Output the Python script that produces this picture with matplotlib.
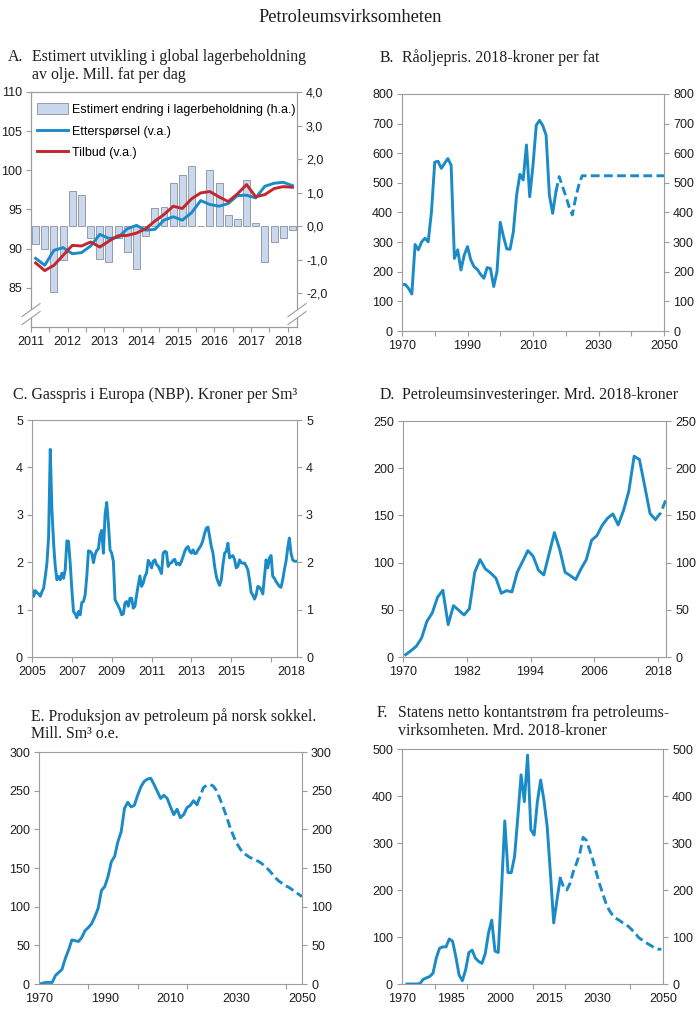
import numpy as np
import matplotlib.pyplot as plt
from matplotlib.patches import Patch, Polygon
from matplotlib.lines import Line2D
from matplotlib.ticker import FixedLocator

W, H = 700, 1021

BLUE = '#1b8bc8'
RED = '#c2272d'
BARC = '#c9d7ef'
SPINE = '#9c9c9c'
TXT = '#1e1e1e'

plt.rcParams['font.family'] = ['Liberation Sans', 'DejaVu Sans']

# ---------------- A: global lagerbeholdning (kvartal 2011K1-2018K1)
a_quarters = np.arange(29)
a_stock = [-0.54, -0.67, -1.97, -0.99, 1.06, 0.94, -0.34, -0.98, -1.05, -0.34,
           -0.76, -1.27, -0.29, 0.54, 0.57, 1.30, 1.53, 1.79, 0.0, 1.67,
           1.28, 0.34, 0.21, 1.39, 0.11, -1.06, -0.46, -0.34, -0.11]
a_demand = [88.77, 87.88, 89.79, 90.13, 89.36, 89.49, 90.34, 91.82, 91.31, 91.44,
            92.54, 92.97, 92.37, 92.46, 93.64, 94.07, 93.64, 94.58, 96.14, 95.64,
            95.42, 95.76, 96.78, 96.82, 96.48, 97.97, 98.35, 98.47, 98.05]
a_supply = [88.18, 87.20, 87.88, 89.15, 90.42, 90.34, 90.85, 90.21, 90.97, 91.65,
            91.69, 91.99, 92.54, 93.52, 94.36, 95.42, 95.13, 96.36, 97.12, 97.29,
            96.61, 96.02, 96.99, 98.18, 96.61, 96.91, 97.67, 97.92, 97.84]

# ---------------- B: raoljepris
b_years = np.arange(1970, 2018)
b_price = [157, 157, 144, 125, 292, 274, 301, 313, 301, 403,
           570, 573, 549, 566, 582, 560, 245, 274, 206, 256,
           285, 240, 217, 208, 191, 178, 214, 211, 150, 200,
           367, 318, 277, 276, 335, 459, 529, 510, 628, 453,
           560, 695, 711, 693, 661, 459, 397, 470]
b_proj_years = [2017, 2018, 2019, 2020, 2021, 2022, 2023, 2024, 2025, 2050]
b_proj = [470, 521, 488, 456, 420, 392, 448, 493, 524, 524]

# ---------------- C: gasspris NBP, maanedlig fra jan 2005
c_gas = [1.42, 1.28, 1.40, 1.36, 1.33, 1.28, 1.38, 1.45, 1.70, 1.98,
         2.54, 4.38, 3.10, 2.40, 1.91, 1.63, 1.70, 1.63, 1.77, 1.66,
         1.84, 2.45, 2.44, 1.98, 1.42, 0.96, 0.91, 0.83, 0.96, 0.89,
         1.15, 1.17, 1.31, 1.70, 2.24, 2.23, 2.19, 1.99, 2.16, 2.25,
         2.28, 2.58, 2.67, 2.19, 3.00, 3.26, 2.82, 2.26, 2.19, 2.02,
         1.21, 1.14, 1.07, 1.00, 0.89, 0.91, 1.14, 1.17, 1.07, 1.24,
         1.24, 1.03, 1.07, 1.31, 1.52, 1.71, 1.49, 1.56, 1.70, 1.77,
         2.04, 1.98, 1.88, 2.02, 2.05, 1.95, 1.92, 1.84, 1.76, 2.19,
         2.23, 2.21, 1.91, 1.98, 1.99, 2.04, 2.06, 1.95, 1.98, 1.94,
         2.02, 2.12, 2.23, 2.30, 2.33, 2.23, 2.19, 2.26, 2.18, 2.19,
         2.26, 2.31, 2.37, 2.47, 2.61, 2.72, 2.74, 2.54, 2.33, 2.19,
         1.91, 1.70, 1.59, 1.51, 1.63, 1.95, 2.19, 2.23, 2.40, 2.09,
         2.12, 2.14, 2.06, 1.88, 1.91, 2.05, 1.99, 1.98, 1.98, 1.92,
         1.84, 1.63, 1.36, 1.31, 1.22, 1.31, 1.49, 1.47, 1.42, 1.33,
         1.70, 2.05, 1.88, 2.09, 2.14, 1.70, 1.66, 1.59, 1.54, 1.49,
         1.47, 1.63, 1.84, 2.02, 2.30, 2.51, 2.19, 2.05, 2.02, 2.02]
c_time = 2005 + np.arange(len(c_gas)) / 12

# ---------------- D: petroleumsinvesteringer 1970-2019
d_years = np.arange(1970, 2020)
d_inv = [2.5, 6.7, 11.3, 20.1, 37.8, 46.6, 63.3, 70.7, 34.3, 54.4,
         49.5, 44.5, 51.2, 89.8, 103.2, 93.3, 89.0, 83.4, 67.5, 70.3,
         68.9, 89.8, 101.1, 112.7, 106.7, 91.9, 86.9, 109.5, 131.8, 113.8,
         89.8, 86.2, 82.0, 93.3, 103.2, 123.7, 128.6, 139.6, 147.0, 151.6,
         139.9, 155.1, 175.6, 212.7, 209.2, 180.9, 151.9, 145.6, 152.7, 166.8]
d_last_actual = 2017

# ---------------- E: produksjon
e_years = np.arange(1970, 2019)
e_prod = [0, 0.9, 2, 2, 2, 11, 15, 19, 33, 44,
          57, 56, 55, 60, 69, 73, 78, 87, 98, 121,
          126, 139, 158, 165, 184, 197, 227, 235, 229, 231,
          244, 255, 262, 265, 266, 258, 249, 240, 244, 240,
          229, 219, 226, 215, 219, 228, 231, 237, 232]
e_proj_years = np.arange(2018, 2051)
e_proj = [232, 242, 254, 257, 258, 256, 250, 240, 229, 217,
          204, 193, 183, 176, 170, 167, 164, 162, 160, 158,
          155, 151, 147, 142, 137, 133, 130, 127, 125, 122,
          119, 116, 113]

# ---------------- F: statens netto kontantstrom
f_years = np.arange(1971, 2019)
f_cash = [0, 0, 0, 0, 1, 10, 13, 16, 23, 55,
          76, 79, 79, 96, 91, 58, 19, 7, 30, 67,
          72, 55, 48, 44, 64, 108, 136, 70, 67, 200,
          347, 237, 237, 271, 355, 445, 388, 487, 328, 317,
          388, 434, 391, 335, 235, 130, 179, 225]
f_proj_years = np.arange(2018, 2050)
f_proj = [225, 207, 200, 214, 239, 257, 278, 312, 306, 285,
          264, 239, 214, 193, 172, 157, 147, 140, 136, 131,
          127, 122, 115, 108, 99, 94, 89, 85, 81, 76,
          74, 74]

DASH = (0, (3.0, 1.5))
LW = 2.1
TICKFS = 9

fig = plt.figure(figsize=(W / 100, H / 100), dpi=100)


def box(l, t, r, b):
    return [l / W, 1 - b / H, (r - l) / W, (b - t) / H]


def style(ax, right=True):
    for s in ax.spines.values():
        s.set_color(SPINE)
        s.set_linewidth(0.8)
    ax.tick_params(which='both', colors=SPINE, labelcolor=TXT, labelsize=TICKFS,
                   length=3.5, width=0.8, direction='out', pad=3)
    if right:
        ax.tick_params(axis='y', right=True, labelright=True)


def title(x_lab, x_txt, y, lab, lines):
    kw = dict(family=['Liberation Serif', 'DejaVu Serif'], fontsize=11.4,
              color=TXT, va='center')
    if lab:
        fig.text(x_lab / W, 1 - y / H, lab, **kw)
    for i, line in enumerate(lines):
        fig.text(x_txt / W, 1 - (y + i * 18) / H, line, **kw)


fig.text(0.5, 1 - 18 / H, 'Petroleumsvirksomheten',
         family=['Liberation Serif', 'DejaVu Serif'], fontsize=13.2,
         color=TXT, ha='center', va='center')

# ---------------- A
axA = fig.add_axes(box(31, 92, 297, 327))
axA2 = axA.twinx()
axA.set_zorder(axA2.get_zorder() + 1)
axA.patch.set_visible(False)
xq = 2011 + (a_quarters + 0.5) / 4
axA2.bar(xq, a_stock, width=0.19, color=BARC, edgecolor='#8a8f98', linewidth=0.6)
axA.plot(xq, a_demand, color=BLUE, lw=LW)
axA.plot(xq, a_supply, color=RED, lw=LW)
axA.set_xlim(2011, 2018.25)
axA.set_ylim(80, 110)
axA2.set_ylim(-3, 4)
axA.set_yticks([85, 90, 95, 100, 105, 110])
axA2.set_yticks([-2, -1, 0, 1, 2, 3, 4])
axA2.set_yticklabels([f'{v:.1f}'.replace('.', ',') for v in [-2, -1, 0, 1, 2, 3, 4]])
axA.set_xticks(range(2011, 2019))
axA.xaxis.set_minor_locator(FixedLocator(np.arange(2011.5, 2018, 1.0)))
style(axA, right=False)
style(axA2, right=False)
axA2.tick_params(axis='x', which='both', bottom=False, labelbottom=False)
handles = [Patch(facecolor=BARC, edgecolor='#8a8f98', linewidth=0.6),
           Line2D([], [], color=BLUE, lw=LW),
           Line2D([], [], color=RED, lw=LW)]
axA.legend(handles, ['Estimert endring i lagerbeholdning (h.a.)',
                     'Etterspørsel (v.a.)', 'Tilbud (v.a.)'],
           loc='upper left', bbox_to_anchor=(0.022, 0.952), frameon=False,
           fontsize=9, handlelength=2.5, handleheight=0.95, handletextpad=0.3,
           labelspacing=0.72, borderpad=0, borderaxespad=0)

# break marks on both y axes
for xs in (31, 297):
    gap = Polygon([((xs - 4) / W, 1 - 313.0 / H), ((xs + 4) / W, 1 - 307.2 / H),
                   ((xs + 4) / W, 1 - 315.2 / H), ((xs - 4) / W, 1 - 321.0 / H)],
                  closed=True, facecolor='white', edgecolor='none',
                  transform=fig.transFigure, zorder=5)
    fig.add_artist(gap)
    for dy in (0, 8):
        fig.add_artist(Line2D([(xs - 9) / W, (xs + 9) / W],
                              [1 - (316.6 + dy) / H, 1 - (303.6 + dy) / H],
                              color=SPINE, lw=0.8, transform=fig.transFigure,
                              zorder=6))

title(8, 32, 57, 'A.', ['Estimert utvikling i global lagerbeholdning',
                        'av olje. Mill. fat per dag'])

# ---------------- B
axB = fig.add_axes(box(402, 94, 664, 331))
axB.plot(b_years, b_price, color=BLUE, lw=LW)
axB.plot(b_proj_years, b_proj, color=BLUE, lw=LW, linestyle=DASH)
axB.set_xlim(1970, 2050)
axB.set_ylim(0, 800)
axB.set_yticks(range(0, 801, 100))
axB.set_xticks(range(1970, 2051, 20))
axB.xaxis.set_minor_locator(FixedLocator(range(1980, 2050, 20)))
style(axB)
title(380, 402, 58, 'B.', ['Råoljepris. 2018-kroner per fat'])

# ---------------- C
axC = fig.add_axes(box(32, 420, 297, 657))
axC.plot(c_time, c_gas, color=BLUE, lw=LW)
axC.set_xlim(2005, 2018.3)
axC.set_ylim(0, 5)
axC.set_yticks(range(0, 6))
axC.set_xticks([2005, 2007, 2009, 2011, 2013, 2015, 2018])
axC.xaxis.set_minor_locator(FixedLocator([2017]))
style(axC)
axC.xaxis.get_major_ticks()[-1].tick1line.set_visible(False)
title(13, 13, 395, None, ['C. Gasspris i Europa (NBP). Kroner per Sm³'])

# ---------------- D
axD = fig.add_axes(box(403, 421, 666, 657))
dx = d_years + 0.5
n_act = int(d_last_actual - d_years[0]) + 1
axD.plot(dx[:n_act], d_inv[:n_act], color=BLUE, lw=LW)
axD.plot(dx[n_act - 1:], d_inv[n_act - 1:], color=BLUE, lw=LW, linestyle=DASH)
axD.set_xlim(1970, 2019.5)
axD.set_ylim(0, 250)
axD.set_yticks(range(0, 251, 50))
axD.set_xticks(range(1970, 2019, 12))
style(axD)
title(380, 402, 395, 'D.', ['Petroleumsinvesteringer. Mrd. 2018-kroner'])

# ---------------- E
axE = fig.add_axes(box(39, 752, 302, 984))
axE.plot(e_years, e_prod, color=BLUE, lw=LW)
axE.plot(e_proj_years, e_proj, color=BLUE, lw=LW, linestyle=DASH)
axE.set_xlim(1970, 2050)
axE.set_ylim(0, 300)
axE.set_yticks(range(0, 301, 50))
axE.set_xticks(range(1970, 2051, 20))
axE.xaxis.set_minor_locator(FixedLocator(range(1985, 2050, 15)))
style(axE)
axE.tick_params(axis='x', which='major', length=0, pad=6.5)
title(17, 31, 717, None, ['E. Produksjon av petroleum på norsk sokkel.'])
title(31, 31, 734, None, ['Mill. Sm³ o.e.'])

# ---------------- F
axF = fig.add_axes(box(402, 749, 663, 984))
axF.plot(f_years + 0.5, f_cash, color=BLUE, lw=LW)
axF.plot(f_proj_years + 0.5, f_proj, color=BLUE, lw=LW, linestyle=DASH)
axF.set_xlim(1970, 2050)
axF.set_ylim(0, 500)
axF.set_yticks(range(0, 501, 100))
axF.set_xticks([1970, 1985, 2000, 2015, 2030, 2050])
axF.xaxis.set_minor_locator(FixedLocator(range(1980, 2050, 10)))
style(axF)
axF.tick_params(axis='x', which='major', length=0, pad=6.5)
title(377, 398, 713, 'F.', ['Statens netto kontantstrøm fra petroleums-',
                            'virksomheten. Mrd. 2018-kroner'])

fig.savefig('out.png', dpi=100)
